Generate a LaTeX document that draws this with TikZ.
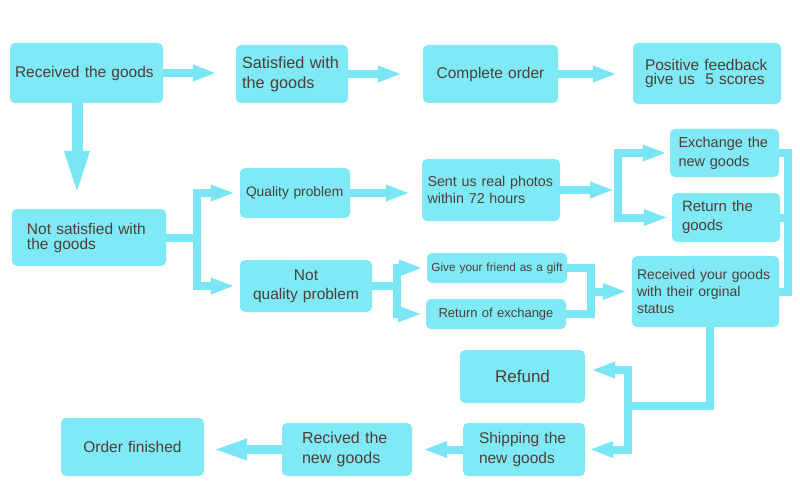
\documentclass[tikz,border=0pt]{standalone}
\usepackage{fontspec}
\setmainfont{Liberation Sans}
\usetikzlibrary{arrows.meta}
\definecolor{boxcyan}{RGB}{127,234,246}
\definecolor{linecyan}{RGB}{122,230,245}
\definecolor{txtbrown}{RGB}{78,62,56}
\newcommand{\fs}[2]{\fontsize{#1}{#2}\selectfont}

\begin{document}
\begin{tikzpicture}%
	[	x={(1pt,0pt)},
	y={(0pt,-1pt)},
	box/.style={fill=boxcyan, rounded corners=5pt, text=txtbrown, inner ysep=0pt, align=left},
	cbox/.style={box, align=center},
	flowline/.style={draw=linecyan, line width=8pt},
	flow/.style={flowline, -{Triangle[length=24pt,width=15pt]}},
	bigflow/.style={draw=linecyan, line width=11pt, -{Triangle[length=46pt,width=22pt]}},
	endflow/.style={draw=linecyan, line width=9pt, -{Triangle[length=35pt,width=19pt]}}]

\fill[white] (0,0) rectangle (800,492);
\useasboundingbox (0,0) rectangle (800,492);

\node[box, text width=143pt, inner xsep=5pt, minimum height=60pt, font=\fs{15.5}{20}] (recv) at (86.5,73) {Received the goods};
\node[box, text width=100pt, inner xsep=6pt, minimum height=58pt, font=\fs{16.3}{20}] (sat) at (292,74) {Satisfied with\\the goods};
\node[cbox, text width=121pt, inner xsep=7pt, minimum height=58pt, font=\fs{15.5}{20}] (compl) at (490.5,74) {Complete order};
\node[box, text width=124pt, inner xsep=12pt, minimum height=61pt, font=\fs{15.5}{14}] (posit) at (707,73.5) {Positive feedback\\give us~~5 scores};

\node[box, text width=124pt, inner xsep=15pt, minimum height=57pt, font=\fs{15.5}{15}] (notsat) at (89,237.5) {Not satisfied with\\the goods};
\node[box, text width=98pt, inner xsep=6pt, minimum height=50pt, font=\fs{13.8}{17}] (qual) at (295,193) {Quality problem};
\node[cbox, text width=120pt, inner xsep=6pt, minimum height=52pt, font=\fs{15.5}{19}] (notqual) at (306,286) {Not\\quality problem};
\node[box, text width=127pt, inner xsep=5.5pt, minimum height=62pt, font=\fs{14.3}{17}] (photos) at (491,190) {Sent us real photos\\within 72 hours};
\node[box, text width=92pt, inner xsep=8.5pt, minimum height=48pt, font=\fs{14.5}{19}] (exch) at (724.5,153) {Exchange the\\new goods};
\node[box, text width=88pt, inner xsep=10pt, minimum height=49pt, font=\fs{15}{19}] (retg) at (726,217.5) {Return the\\goods};
\node[cbox, text width=132pt, inner xsep=4pt, minimum height=30pt, font=\fs{11.8}{14}] (gift) at (497,268) {Give your friend as a gift};
\node[cbox, text width=132pt, inner xsep=4pt, minimum height=30pt, font=\fs{13}{15}] (rexch) at (496,314) {Return of exchange};
\node[box, text width=137pt, inner xsep=5pt, minimum height=71pt, font=\fs{14}{17}] (orig) at (705.5,291.5) {Received your goods\\with their orginal\\status};

\node[cbox, text width=115pt, inner xsep=5pt, minimum height=53pt, font=\fs{17}{20}] (refund) at (522.5,376.5) {Refund};
\node[box, text width=90pt, inner xsep=16pt, minimum height=53pt, font=\fs{15.5}{20}] (ship) at (524,449.5) {Shipping the\\new goods};
\node[box, text width=90pt, inner xsep=20pt, minimum height=53pt, font=\fs{16}{20}] (recnew) at (347,449.5) {Recived the\\new goods};
\node[cbox, text width=133pt, inner xsep=5pt, minimum height=58pt, font=\fs{15.5}{20}] (fin) at (132.5,447) {Order finished};

\draw[flow, shorten >=19pt] (recv.east) -- (recv.east -| sat.west);
\draw[flow, shorten >=21pt] (sat.east) -- (sat.east -| compl.west);
\draw[flow, shorten >=16pt] (compl.east) -- (compl.east -| posit.west);
\draw[bigflow, shorten >=12pt] (recv.south -| 77,0) -- (notsat.north -| 77,0);

\path (notsat.east) ++(31,0) coordinate (split1);
\draw[flowline] (notsat.east) -- (split1);
\draw[flow, shorten >=5pt] (split1) |- (qual.west);
\draw[flow, shorten >=5pt] (split1) |- (notqual.west);
\draw[flow, shorten >=12pt] (qual.east) -- (qual.east -| photos.west);

\path (notqual.east) ++(25,0) coordinate (split2);
\draw[flowline] (notqual.east) -- (split2);
\draw[flow, shorten >=4pt] (split2) |- (gift.west);
\draw[flow, shorten >=4pt] (split2) |- (rexch.west);
\coordinate (merge1) at (591,291.5);
\draw[flowline] (gift.east) -| (merge1 |- rexch.east) -- (rexch.east);
\draw[flow, shorten >=5pt] (merge1) -- (orig.west);

\path (photos.east) ++(58,0) coordinate (split3);
\draw[flow, shorten >=4pt] (photos.east) -- (split3);
\draw[flow, shorten >=3pt] (split3) |- (exch.west);
\draw[flow, shorten >=4pt] (split3) |- (retg.west);
\draw[flowline] (exch.east) -- ++(9,0) |- (orig.east);
\draw[flowline] (retg.east) -- ++(8,0);

\coordinate (split4) at (628,406);
\draw[flowline] (orig.south -| 710,0) |- (split4);
\draw[flow, shorten >=6pt] (split4) |- (refund.east |- 0,370);
\draw[flow, shorten >=4pt] (split4) |- (ship.east);
\draw[flow, shorten >=11pt] (ship.west) -- (recnew.east);
\draw[endflow, shorten >=8pt] (recnew.west) -- (recnew.west -| fin.east);
\end{tikzpicture}
\end{document}
